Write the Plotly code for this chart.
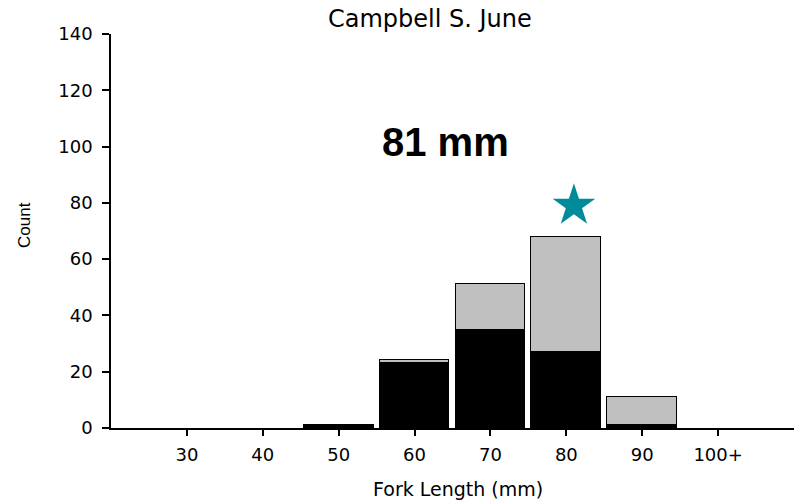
import plotly.graph_objects as go

# ---- data ----
bin_centers = [30, 40, 50, 60, 70, 80, 90, 100]
tick_labels = ["30", "40", "50", "60", "70", "80", "90", "100+"]
black_counts = [0, 0, 1, 23, 35, 27, 1, 0]
gray_counts = [0, 0, 0, 1, 16, 41, 10, 0]
star_x = [81]
star_y = [79]
mean_label = "81 mm"
mean_label_x = 64.1
mean_label_y = 101.7
title_text = "Campbell S. June"
x_title = "Fork Length (mm)"
y_title = "Count"

W, H = 794, 501
L, R, T, B = 111, 0, 34, 73


def hide_zero(values):
    # empty bins are not drawn (no outline)
    return [v if v else None for v in values]


fig = go.Figure()
fig.add_trace(go.Bar(
    x=bin_centers, y=hide_zero(black_counts), width=9.2,
    marker=dict(color="black", line=dict(color="black", width=1.5)),
    showlegend=False, hoverinfo="x+y",
))
fig.add_trace(go.Bar(
    x=bin_centers, y=hide_zero(gray_counts), width=9.2,
    marker=dict(color="#C0C0C0", line=dict(color="black", width=1.5)),
    showlegend=False, hoverinfo="x+y",
))
fig.add_trace(go.Scatter(
    x=star_x, y=star_y, mode="markers",
    marker=dict(symbol="star", size=32, color="#008B9A", line=dict(width=0)),
    showlegend=False, hoverinfo="skip",
))

fig.update_layout(
    width=W, height=H,
    margin=dict(l=L, r=R, t=T, b=B, autoexpand=False),
    paper_bgcolor="white", plot_bgcolor="white",
    barmode="stack", bargap=0,
    font=dict(family="DejaVu Sans, Liberation Sans, Arial, sans-serif", color="black"),
    xaxis=dict(
        range=[20, 110], tickmode="array", tickvals=bin_centers, ticktext=tick_labels,
        showline=True, linecolor="black", linewidth=2, ticks="outside", ticklen=6,
        tickwidth=1.5, tickcolor="black", showgrid=False, zeroline=False,
        tickfont=dict(size=18, family="DejaVu Sans, Liberation Sans, sans-serif"),
        ticklabelstandoff=3,
        fixedrange=True,
    ),
    yaxis=dict(
        range=[0, 140], tickmode="linear", tick0=0, dtick=20,
        showline=True, linecolor="black", linewidth=1.5, ticks="outside", ticklen=7,
        tickwidth=1.5, tickcolor="black", showgrid=False, zeroline=False,
        tickfont=dict(size=18, family="DejaVu Sans, Liberation Sans, sans-serif"),
        ticklabelstandoff=6,
        fixedrange=True,
    ),
)

plot_w = W - L - R
plot_h = H - T - B

fig.add_annotation(
    text=title_text, xref="paper", yref="paper",
    x=(430 - L) / plot_w, y=1 + (T - 19) / plot_h,
    xanchor="center", yanchor="middle", showarrow=False,
    font=dict(size=24, family="DejaVu Sans, Liberation Sans, sans-serif", color="black"),
)
fig.add_annotation(
    text=x_title, xref="paper", yref="paper",
    x=(458 - L) / plot_w, y=-(489.5 - (H - B)) / plot_h,
    xanchor="center", yanchor="middle", showarrow=False,
    font=dict(size=19, family="DejaVu Sans, Liberation Sans, sans-serif", color="black"),
)
fig.add_annotation(
    text=y_title, xref="paper", yref="paper",
    x=-(L - 25) / plot_w, y=((H - B) - 225) / plot_h,
    xanchor="center", yanchor="middle", showarrow=False, textangle=-90,
    font=dict(size=17, family="Liberation Sans, Arial, sans-serif", color="black"),
)
fig.add_annotation(
    text="<b>" + mean_label + "</b>", xref="x", yref="y",
    x=mean_label_x, y=mean_label_y,
    xanchor="center", yanchor="middle", showarrow=False,
    font=dict(size=40, family="Liberation Sans, Arial, sans-serif", color="black"),
)

fig.write_html("out.html", config={"displayModeBar": False},
               post_script="document.body.style.margin='0px';")
